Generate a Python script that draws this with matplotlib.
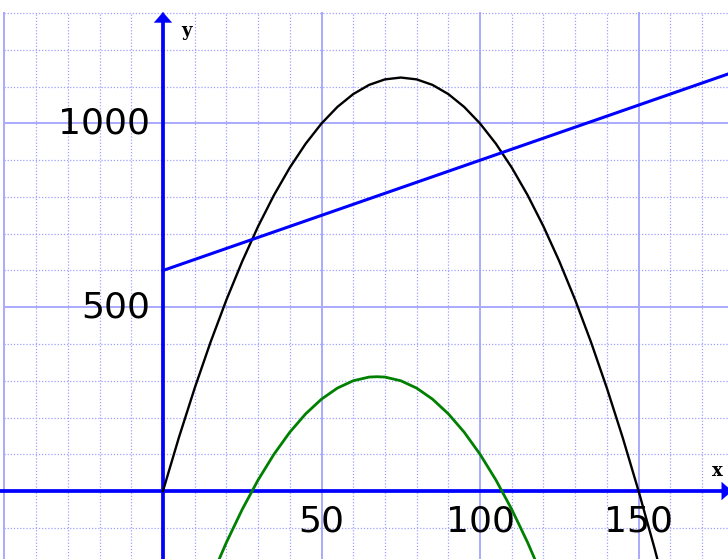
import matplotlib
matplotlib.use('Agg')
import matplotlib.pyplot as plt
import numpy as np

# readings
revenue_x = [0, 5, 10, 15, 20, 25, 30, 35, 40, 45, 50, 55, 60, 65, 70, 75,
             80, 85, 90, 95, 100, 105, 110, 115, 120, 125, 130, 135, 140, 145, 150, 155, 160]
revenue_y = [0, 145, 280, 405, 520, 625, 720, 805, 880, 945, 1000, 1045, 1080, 1105, 1120, 1125,
             1120, 1105, 1080, 1045, 1000, 945, 880, 805, 720, 625, 520, 405, 280, 145, 0, -155, -320]

cost_x = [0, 180]
cost_y = [600, 1140]

profit_x = [15, 20, 25, 30, 35, 40, 45, 50, 55, 60, 65, 67.5, 70, 75,
            80, 85, 90, 95, 100, 105, 110, 115, 120]
profit_y = [-240, -140, -50, 30, 100, 160, 210, 250, 280, 300, 310, 311, 310, 300,
            280, 250, 210, 160, 100, 30, -50, -140, -240]

x_ticks = [50, 100, 150]
y_ticks = [500, 1000]

# axes window, worked out from pixel positions
x_lo, x_hi = -51.4, 178.2
y_lo, y_hi = -185, 1336
grid_top = 1300
grid_left = -50

fig = plt.figure(figsize=(7.28, 5.59), dpi=100)
ax = fig.add_axes([0, 0, 1, 1])
ax.set_xlim(x_lo, x_hi)
ax.set_ylim(y_lo, y_hi)
ax.axis('off')

# Step 1: grid
minor_col = '#a0a0ff'
major_col = '#aaaaff'
for gx in range(-50, 181, 10):
    if gx % 50 == 0:
        ax.plot([gx, gx], [y_lo, grid_top], color=major_col, lw=1.4, zorder=1)
    else:
        ax.plot([gx, gx], [y_lo, grid_top], color=minor_col, lw=0.9, ls=(0, (1, 1.5)), zorder=1)
for gy in range(-100, 1301, 100):
    if gy % 500 == 0:
        ax.plot([grid_left, x_hi], [gy, gy], color=major_col, lw=1.4, zorder=1)
    else:
        ax.plot([grid_left, x_hi], [gy, gy], color=minor_col, lw=0.9, ls=(0, (1, 1.5)), zorder=1)

# Step 2: axes with arrows
ax.plot([x_lo, x_hi - 1], [0, 0], color='blue', lw=2.7, zorder=4)
ax.plot([0, 0], [y_lo, y_hi - 50], color='blue', lw=2.7, zorder=4)
head = dict(arrowstyle='-|>,head_length=0.75,head_width=0.65', color='blue',
            lw=0.1, mutation_scale=10, shrinkA=0, shrinkB=0)
ax.annotate('', xy=(x_hi + 1.3, 0), xytext=(x_hi - 6, 0), arrowprops=head,
            annotation_clip=False, zorder=5)
ax.annotate('', xy=(0, 1303), xytext=(0, 1240), arrowprops=head, zorder=5)
ax.text(7.5, 1252, 'y', family='DejaVu Serif', fontweight='bold', fontsize=13, va='center', ha='center')
ax.text(174.8, 55, 'x', family='DejaVu Serif', fontweight='bold', fontsize=13, va='center', ha='center')

# Step 3: tick labels
for t in x_ticks:
    ax.text(t, -84, str(t), fontsize=26, ha='center', va='center', zorder=3)
for t in y_ticks:
    ax.text(-4, t, str(t), fontsize=26, ha='right', va='center', zorder=3)

# Step 4: curves
ax.plot(revenue_x, revenue_y, color='black', lw=1.7, zorder=6)
ax.plot(cost_x, cost_y, color='blue', lw=2.2, zorder=6)
ax.plot(profit_x, profit_y, color='green', lw=2.0, zorder=6)

fig.savefig('out.png', dpi=100)
